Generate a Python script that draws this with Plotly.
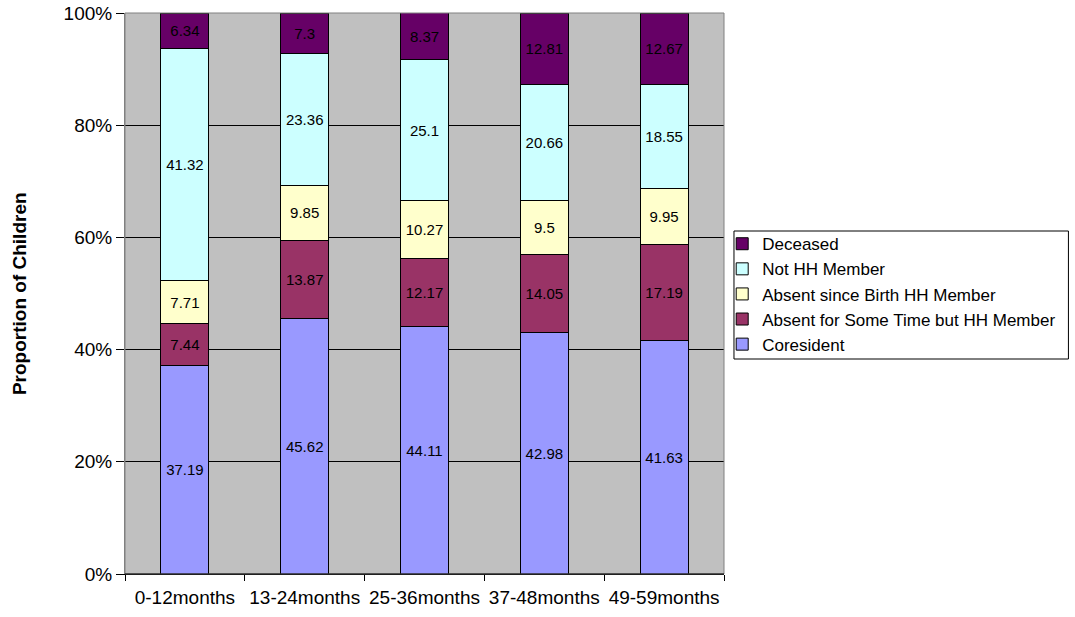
import plotly.graph_objects as go

categories = ["0-12months", "13-24months", "25-36months", "37-48months", "49-59months"]

coresident = [37.19, 45.62, 44.11, 42.98, 41.63]
absent_some_time = [7.44, 13.87, 12.17, 14.05, 17.19]
absent_since_birth = [7.71, 9.85, 10.27, 9.5, 9.95]
not_hh_member = [41.32, 23.36, 25.1, 20.66, 18.55]
deceased = [6.34, 7.3, 8.37, 12.81, 12.67]

series = [
    ("Coresident", coresident, "#9999FF"),
    ("Absent for Some Time but HH Member", absent_some_time, "#993366"),
    ("Absent since Birth HH Member", absent_since_birth, "#FFFFCC"),
    ("Not HH Member", not_hh_member, "#CCFFFF"),
    ("Deceased", deceased, "#660066"),
]

FONT = "Liberation Sans, Arial, sans-serif"

fig = go.Figure()
for name, vals, color in series:
    fig.add_trace(go.Bar(
        name=name,
        x=categories,
        y=vals,
        width=0.4,
        marker=dict(color=color, line=dict(color="black", width=1)),
        text=[str(v) for v in vals],
        textposition="inside",
        insidetextanchor="middle",
        textangle=0,
        constraintext="none",
        textfont=dict(family=FONT, size=15, color="black"),
        hoverinfo="skip",
    ))

fig.update_layout(
    barmode="stack",
    width=1075,
    height=617,
    margin=dict(l=125, r=351, t=13, b=43, autoexpand=False),
    paper_bgcolor="white",
    plot_bgcolor="#C0C0C0",
    font=dict(family=FONT, size=19, color="black"),
    showlegend=True,
    legend=dict(
        traceorder="reversed",
        x=0.997,
        y=0.62,
        xanchor="left",
        yanchor="top",
        bgcolor="rgba(0,0,0,0)",
        borderwidth=0,
        font=dict(family=FONT, size=17, color="black"),
        itemwidth=30,
        tracegroupgap=0,
    ),
    xaxis=dict(
        type="category",
        automargin=False,
        showgrid=False,
        showline=True,
        linecolor="black",
        linewidth=1,
        ticks="outside",
        tickson="boundaries",
        ticklen=6,
        tickcolor="black",
        tickangle=0,
        tickfont=dict(family=FONT, size=19),
        ticklabelstandoff=6,
        range=[-0.5, 4.5],
    ),
    yaxis=dict(
        automargin=False,
        range=[0, 100],
        dtick=20,
        ticksuffix="%",
        showgrid=True,
        gridcolor="black",
        gridwidth=1,
        showline=True,
        linecolor="#808080",
        linewidth=1,
        ticks="outside",
        ticklen=8,
        tickcolor="black",
        tickfont=dict(family=FONT, size=19),
        zeroline=False,
    ),
    annotations=[
        dict(text="<b>Proportion of Children</b>", xref="paper", yref="paper",
             x=-0.176, y=0.5, xanchor="center", yanchor="middle", textangle=-90,
             showarrow=False, font=dict(family=FONT, size=19, color="black")),
    ],
    shapes=[
        dict(type="rect", xref="paper", yref="paper", x0=0, x1=1, y0=0, y1=1,
             line=dict(color="#808080", width=1), fillcolor="rgba(0,0,0,0)", layer="above"),
        dict(type="line", xref="paper", yref="paper", x0=0, x1=1, y0=0, y1=0,
             line=dict(color="black", width=1), layer="above"),
        # legend frame
        dict(type="rect", xref="paper", yref="paper",
             x0=(735 - 125) / 600, x1=(1070 - 125) / 600,
             y0=(574 - 359) / 561, y1=(574 - 231) / 561,
             line=dict(color="black", width=1), fillcolor="white", layer="below"),
    ],
)

fig.write_html("out.html")
